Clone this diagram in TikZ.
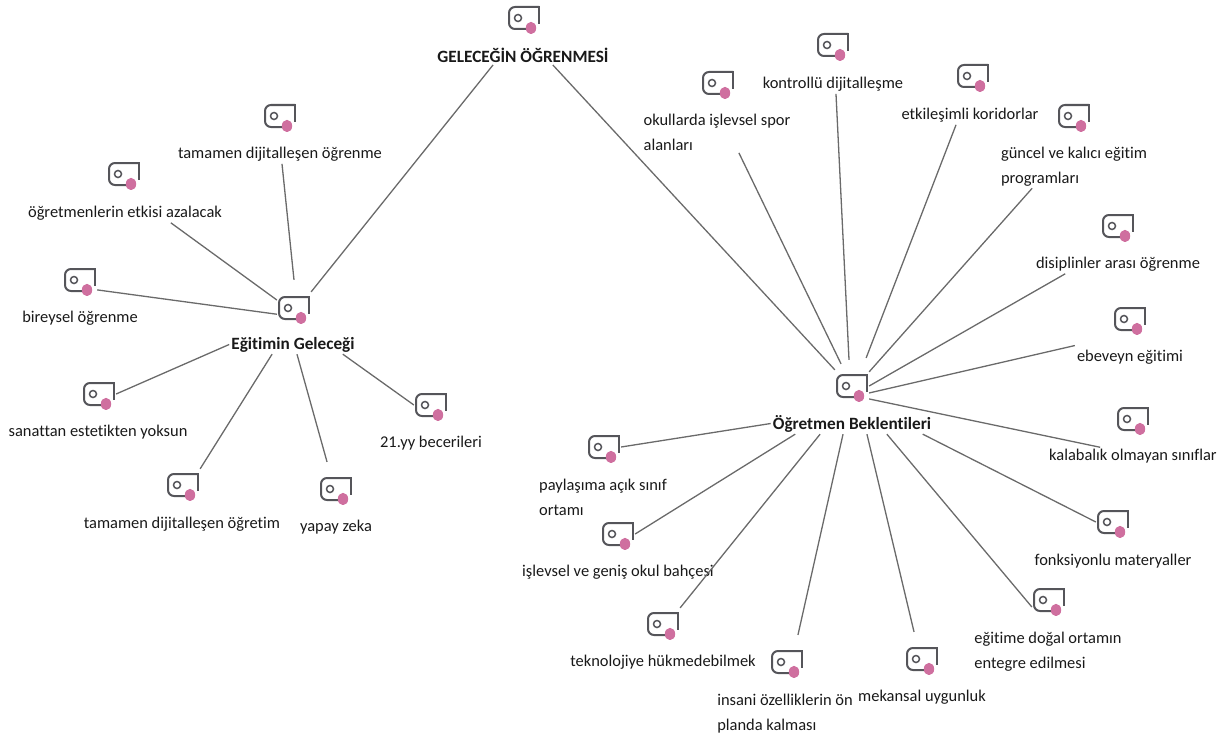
\documentclass[tikz,border=0pt]{standalone}
\usepackage{fontspec}
\setmainfont[Ligatures=NoCommon]{Carlito}
\usetikzlibrary{calc}
\definecolor{tagline}{HTML}{55555A}
\definecolor{tagdot}{HTML}{CF6F9F}
\definecolor{linkline}{HTML}{6A6A6A}
\tikzset{
  tagicon/.style={rectangle,inner sep=0pt,minimum width=34,minimum height=32,
    path picture={
      \coordinate (c) at (path picture bounding box.center);
      \draw[tagline,line width=2bp,rounded corners=6bp]
      ($(c)+(15,-11)$) -- ($(c)+(-15,-11)$) -- ($(c)+(-15,11)$) -- ($(c)+(3,11)$);
      \draw[tagline,line width=2bp] ($(c)+(15,-12)$) -- ($(c)+(15,6)$);
      \draw[tagline,line width=1.5bp] ($(c)+(-6,0)$) circle (3.5);
      \fill[tagdot] ($(c)+(7,10)$) ellipse (5.2 and 6.2);
    }},
  leaf/.style={inner sep=2pt,align=left,text=black!90,yshift=-1.5,
    font=\fontsize{16.5}{25}\selectfont},
  hub/.style={leaf,yshift=1,font=\fontsize{17.3}{25}\selectfont\bfseries},
  link/.style={linkline,line width=1.3bp}
}
\begin{document}
\begin{tikzpicture}[x=1bp,y=-1bp]
    \useasboundingbox (0,0) rectangle (1227,740);
    % root
    \node[tagicon] (rootI) at (524,18) {};
    \node[hub] (rootL) at (523,55) {GELECEĞİN ÖĞRENMESİ};
    % hubs
    \node[tagicon] (egitimI) at (294,308) {};
    \node[hub] (egitimL) at (293,344) {Eğitimin Geleceği};
    \node[tagicon] (ogretI) at (852,386) {};
    \node[hub] (ogretL) at (852,423) {Öğretmen Beklentileri};
    % left group
    \node[tagicon] (dijOgrenI) at (280,116) {};
    \node[leaf] (dijOgrenL) at (280,153) {tamamen dijitalleşen öğrenme};
    \node[tagicon] (etkiI) at (124,174) {};
    \node[leaf] (etkiL) at (125,212) {öğretmenlerin etkisi azalacak};
    \node[tagicon] (bireyI) at (80,280) {};
    \node[leaf] (bireyL) at (80,317) {bireysel öğrenme};
    \node[tagicon] (sanatI) at (99,394) {};
    \node[leaf] (sanatL) at (98,431) {sanattan estetikten yoksun};
    \node[tagicon] (dijOgretI) at (183,485) {};
    \node[leaf] (dijOgretL) at (182,523) {tamamen dijitalleşen öğretim};
    \node[tagicon] (yapayI) at (336,489) {};
    \node[leaf] (yapayL) at (336,526) {yapay zeka};
    \node[tagicon] (beceriI) at (431,405) {};
    \node[leaf] (beceriL) at (431,442) {21.yy becerileri};
    % right group
    \node[tagicon] (kontrolI) at (833,45) {};
    \node[leaf] (kontrolL) at (833,83) {kontrollü dijitalleşme};
    \node[tagicon] (sporI) at (718,83) {};
    \node[leaf] (sporL) at (717,131) {okullarda işlevsel spor\\alanları};
    \node[tagicon] (koridorI) at (973,76) {};
    \node[leaf] (koridorL) at (970,114) {etkileşimli koridorlar};
    \node[tagicon] (guncelI) at (1074,116) {};
    \node[leaf] (guncelL) at (1074,165) {güncel ve kalıcı eğitim\\programları};
    \node[tagicon] (disiplinI) at (1118,226) {};
    \node[leaf] (disiplinL) at (1118,263) {disiplinler arası öğrenme};
    \node[tagicon] (ebeveynI) at (1130,319) {};
    \node[leaf] (ebeveynL) at (1130,356) {ebeveyn eğitimi};
    \node[tagicon] (kalabalikI) at (1133,419) {};
    \node[leaf] (kalabalikL) at (1133,455) {kalabalık olmayan sınıflar};
    \node[tagicon] (materyalI) at (1113,522) {};
    \node[leaf] (materyalL) at (1113,560) {fonksiyonlu materyaller};
    \node[tagicon] (dogalI) at (1049,600) {};
    \node[leaf] (dogalL) at (1048,650) {eğitime doğal ortamın\\entegre edilmesi};
    \node[tagicon] (mekanI) at (922,659) {};
    \node[leaf] (mekanL) at (922,696) {mekansal uygunluk};
    \node[tagicon] (insaniI) at (787,662) {};
    \node[leaf] (insaniL) at (785,712) {insani özelliklerin ön\\planda kalması};
    \node[tagicon] (teknoI) at (663,624) {};
    \node[leaf] (teknoL) at (663,661) {teknolojiye hükmedebilmek};
    \node[tagicon] (bahceI) at (618,534) {};
    \node[leaf] (bahceL) at (618,571) {işlevsel ve geniş okul bahçesi};
    \node[tagicon] (paylasI) at (604,447) {};
    \node[leaf] (paylasL) at (603,496) {paylaşıma açık sınıf\\ortamı};
    % links
    \draw[link]
    ([xshift=58]rootL.south west) -- (egitimI.north east)
    ([xshift=118]rootL.south west) -- (ogretI.north west);
    \draw[link]
    ([xshift=2]dijOgrenL.south) -- ([yshift=12]egitimI.north)
    ([xshift=46]etkiL.south) -- (egitimI.155)
    (bireyI.-30) -- (egitimI.200)
    (sanatI.east) -- (egitimL.west)
    (dijOgretI.north east) -- ([xshift=-21]egitimL.south)
    ([xshift=-9,yshift=11]yapayI.north) -- ([xshift=4]egitimL.south)
    (beceriI.west) -- ([xshift=50]egitimL.south);
    \draw[link]
    ([xshift=22]sporL.south) -- ([xshift=-11,yshift=6]ogretI.north)
    ([xshift=3]kontrolL.south) -- ([xshift=-3,yshift=10]ogretI.north)
    ([xshift=-14]koridorL.south) -- ([xshift=-3,yshift=12]ogretI.north east)
    ([xshift=-42]guncelL.south) -- ([yshift=-2]ogretI.north east)
    ([xshift=-53]disiplinL.south) -- (ogretI.east)
    ([yshift=12]ebeveynL.west) -- ([yshift=-7]ogretI.east)
    ([xshift=-33]kalabalikL.north) -- ([yshift=-13]ogretI.east)
    (materyalI.west) -- ([xshift=71]ogretL.south)
    ([yshift=-7]dogalI.west) -- ([xshift=35]ogretL.south)
    ([xshift=-8,yshift=11]mekanI.north) -- ([xshift=15]ogretL.south)
    ([xshift=11,yshift=11]insaniI.north) -- ([xshift=-9]ogretL.south)
    (teknoI.north east) -- ([xshift=-32]ogretL.south)
    (bahceI.east) -- ([xshift=-57]ogretL.south)
    (paylasI.east) -- (ogretL.west);
  \end{tikzpicture}
\end{document}
